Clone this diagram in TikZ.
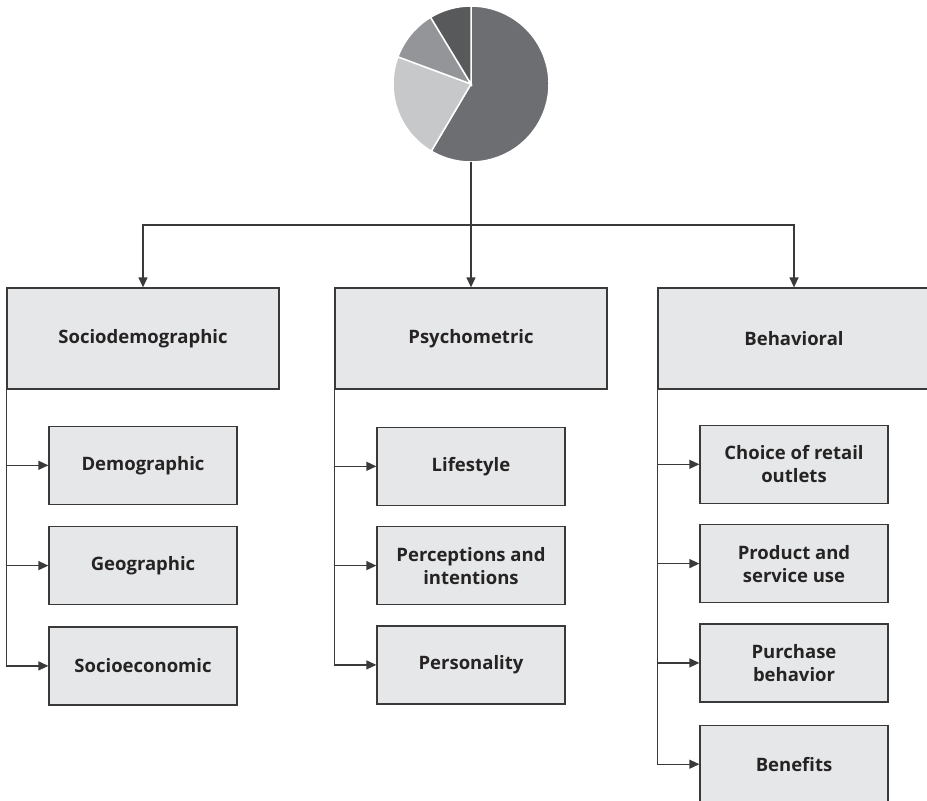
\documentclass[tikz,border=0pt]{standalone}
\usepackage{fontspec}
\setsansfont{Open Sans}
\usetikzlibrary{positioning,calc,arrows.meta}

\definecolor{boxfill}{HTML}{E6E7E8}
\definecolor{boxline}{HTML}{3A3A3A}
\definecolor{txt}{HTML}{262324}
\definecolor{pieA}{HTML}{6D6E71}
\definecolor{pieB}{HTML}{C7C8CA}
\definecolor{pieC}{HTML}{939598}
\definecolor{pieD}{HTML}{58595B}

\begin{document}
\begin{tikzpicture}[
  x=1pt, y=-1pt,
  font=\sffamily\bfseries\fontsize{18.5}{23}\selectfont,
  mainbox/.style={
    rectangle, draw=boxline, fill=boxfill, line width=1.3pt,
    minimum width=272pt, minimum height=101pt,
    inner sep=0pt, align=center, text=txt,
  },
  subbox/.style={
    rectangle, draw=boxline, fill=boxfill, line width=1.3pt,
    minimum width=188pt, minimum height=78pt,
    inner sep=0pt, align=center, text=txt,
  },
  link/.style={draw=boxline, line width=1.3pt},
  arr/.style={link, -{Triangle[length=10pt,width=9pt]}},
]
\useasboundingbox (0,0) rectangle (927,801);

% ----- pie chart on top -----
\node[circle, minimum size=156pt, inner sep=0pt] (pie) at (471,84) {};
\begin{scope}[shift={(pie.center)}, y=1pt]
  \foreach \a/\b/\c in {-120.6/90/pieA, 159.6/239.4/pieB, 121.2/159.6/pieC, 90/121.2/pieD}
    \filldraw[fill=\c, draw=white, line width=1.5pt]
      (0,0) -- (\a:78) arc[start angle=\a, end angle=\b, radius=78] -- cycle;
\end{scope}

% ----- 3 main segmentation boxes -----
\node[mainbox] (S) at (143,338.5) {Sociodemographic};
\node[mainbox] (P) at (471,338.5) {Psychometric};
\node[mainbox] (B) at (794,338.5) {Behavioral};

% ----- split from the pie -----
\coordinate (hub) at (471,225);
\draw[link] (pie) -- (hub);
\draw[arr] (hub) -| (S.north);
\draw[arr] (hub) -- (P.north);
\draw[arr] (hub) -| (B.north);

% SOCIODEMOGRAPHIC
\node[subbox, below=36pt of S] (S1) {Demographic};
\node[subbox, below=21pt of S1] (S2) {Geographic};
\node[subbox, below=21pt of S2] (S3) {Socioeconomic};

% PSYCHOMETRIC
\node[subbox, below=37pt of P] (P1) {Lifestyle};
\node[subbox, below=20pt of P1] (P2) {Perceptions and\\intentions};
\node[subbox, below=20pt of P2] (P3) {Personality};

% BEHAVIORAL
\node[subbox, below=35pt of B] (B1) {Choice of retail\\outlets};
\node[subbox, below=20pt of B1] (B2) {Product and\\service use};
\node[subbox, below=20pt of B2] (B3) {Purchase\\behavior};
\node[subbox, below=22pt of B3] (B4) {Benefits};

% ----- trunks and branches -----
\draw[arr] (S.south west) |- (S3.west);
\foreach \n in {S1,S2}
  \draw[arr] (S.south west |- \n.west) -- (\n.west);

\draw[arr] (P.south west) |- (P3.west);
\foreach \n in {P1,P2}
  \draw[arr] (P.south west |- \n.west) -- (\n.west);

\draw[arr] (B.south west) |- (B4.west);
\foreach \n in {B1,B2,B3}
  \draw[arr] (B.south west |- \n.west) -- (\n.west);

\end{tikzpicture}
\end{document}
